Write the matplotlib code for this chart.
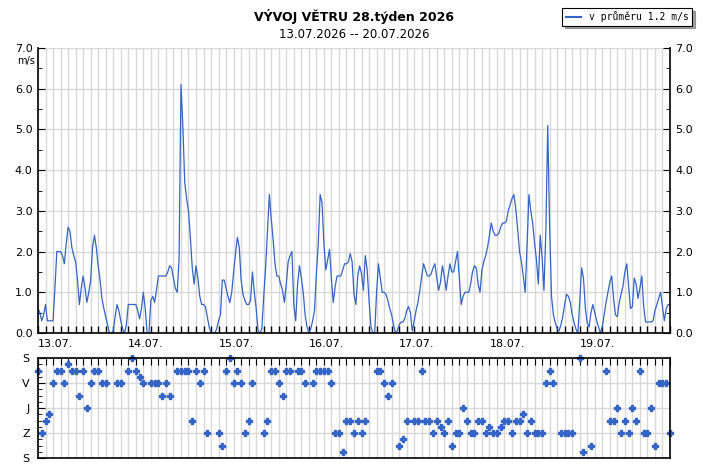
import numpy as np
import matplotlib
matplotlib.use("Agg")
import matplotlib.pyplot as plt
from matplotlib.lines import Line2D
from matplotlib.ticker import MultipleLocator, FixedLocator

# wind speed, half-hourly from 13.07. 00:00 (m/s)
speed = [
    0.6, 0.5, 0.3, 0.45, 0.7, 0.3, 0.3, 0.3, 0.3, 1.1, 2.0, 2.0, 2.0, 1.9, 1.7, 2.2,
    2.6, 2.5, 2.1, 1.9, 1.75, 1.3, 0.7, 1.1, 1.4, 1.1, 0.75, 1.0, 1.3, 2.1, 2.4, 2.1,
    1.65, 1.3, 0.85, 0.6, 0.4, 0.2, 0.0, 0.0, 0.05, 0.4, 0.7, 0.55, 0.3, 0.1, 0.0, 0.2,
    0.7, 0.7, 0.7, 0.7, 0.7, 0.55, 0.35, 0.6, 1.0, 0.6, 0.0, 0.0, 0.8, 0.9, 0.75, 1.05,
    1.4, 1.4, 1.4, 1.4, 1.4, 1.5, 1.65, 1.6, 1.35, 1.1, 1.0, 1.8, 6.1, 5.1, 3.7, 3.3,
    3.0, 2.35, 1.6, 1.2, 1.65, 1.35, 0.9, 0.7, 0.7, 0.65, 0.4, 0.15, 0.0, 0.0, 0.0, 0.1,
    0.3, 0.45, 1.3, 1.3, 1.1, 0.9, 0.75, 1.0, 1.5, 1.95, 2.35, 2.1, 1.3, 0.95, 0.8, 0.7,
    0.7, 0.8, 1.5, 1.0, 0.6, 0.05, 0.0, 0.1, 0.9, 1.6, 2.5, 3.4, 2.8, 2.3, 1.7, 1.4,
    1.4, 1.2, 1.05, 0.75, 1.2, 1.75, 1.9, 2.0, 0.7, 0.3, 1.2, 1.65, 1.35, 1.0, 0.45, 0.15,
    0.0, 0.1, 0.3, 0.55, 1.45, 2.2, 3.4, 3.2, 2.2, 1.55, 1.8, 2.05, 1.3, 0.75, 1.15, 1.4,
    1.4, 1.4, 1.55, 1.7, 1.7, 1.75, 1.95, 1.75, 0.95, 0.7, 1.4, 1.65, 1.45, 1.05, 1.9, 1.55,
    0.8, 0.15, 0.0, 0.0, 1.0, 1.7, 1.35, 1.0, 1.0, 0.95, 0.8, 0.6, 0.45, 0.2, 0.0, 0.05,
    0.2, 0.27, 0.27, 0.35, 0.55, 0.65, 0.5, 0.05, 0.3, 0.55, 0.75, 1.05, 1.4, 1.7, 1.55, 1.4,
    1.4, 1.45, 1.6, 1.7, 1.35, 1.05, 1.25, 1.65, 1.4, 1.05, 1.4, 1.7, 1.5, 1.5, 1.75, 2.0,
    1.35, 0.7, 0.9, 1.0, 1.0, 1.0, 1.2, 1.5, 1.65, 1.6, 1.2, 1.0, 1.55, 1.75, 1.9, 2.1,
    2.4, 2.7, 2.5, 2.4, 2.4, 2.45, 2.6, 2.7, 2.7, 2.75, 3.0, 3.15, 3.3, 3.4, 3.05, 2.55,
    2.0, 1.75, 1.4, 1.0, 2.15, 3.4, 3.0, 2.7, 2.2, 1.8, 1.2, 2.4, 1.85, 1.05, 2.5, 5.1,
    2.6, 0.9, 0.45, 0.25, 0.1, 0.05, 0.2, 0.4, 0.7, 0.95, 0.9, 0.75, 0.45, 0.25, 0.1, 0.0,
    0.75, 1.6, 1.35, 0.6, 0.25, 0.15, 0.5, 0.7, 0.5, 0.3, 0.15, 0.0, 0.15, 0.45, 0.75, 1.0,
    1.25, 1.4, 0.85, 0.45, 0.4, 0.75, 0.95, 1.15, 1.5, 1.7, 1.15, 0.6, 0.65, 1.35, 1.2, 0.85,
    1.1, 1.4, 0.65, 0.27, 0.27, 0.27, 0.27, 0.3, 0.55, 0.7, 0.85, 1.0, 0.65, 0.3, 0.6, 0.7,
    0.7,
]

# wind direction, hourly (degrees, None = calm / missing)
direction = [
    45, 270, 225, 202.5, 90, 45, 45, 90, 22.5, 45, 45, 135, 45, 180, 90, 45,
    45, 90, 90, None, None, 90, 90, None, 45, 0, 45, 67.5, 90, None, 90, 90,
    90, 135, 90, 135, None, 45, 45, 45, 45, 225, 45, 90, 45, 270, None, None,
    270, 315, 45, 0, 90, 45, 90, 270, 225, 90, None, None, 270, 225, 45, 45,
    90, 135, 45, 45, None, 45, 45, 90, None, 90, 45, 45, 45, 45, 90, 270,
    270, 337.5, 225, 225, 270, 225, 270, 225, None, None, 45, 45, 90, 135, 90, None,
    315, 292.5, 225, None, 225, 225, 45, 225, 225, 270, 225, 247.5, 270, 225, 315, 270,
    270, 180, 225, 270, 270, 225, 225, 270, 247.5, 270, 270, 247.5, 225, 225, 270, 225,
    225, 202.5, 270, 225, 270, 270, 270, 90, 45, 90, None, 270, 270, 270, 270, None,
    0, 337.5, None, 315, None, None, None, 45, 225, 225, 180, 270, 225, 270, 180, 225,
    45, 270, 270, 180, 315, 90, 90, 90, 270,
]

day_labels = ["13.07.", "14.07.", "15.07.", "16.07.", "17.07.", "18.07.", "19.07."]
dir_labels = ["S", "V", "J", "Z", "S"]
avg_speed = 1.2

blue = "#3465c6"
grid_c = "#d8d8d8"

t_speed = np.arange(len(speed)) * 0.5
t_dir = np.arange(len(direction)) * 1.0
dir_vals = np.array([np.nan if d is None else d for d in direction], dtype=float)

fig = plt.figure(figsize=(7.08, 4.68), dpi=100)
ax = fig.add_axes([38 / 708, 135 / 468, 632 / 708, 285 / 468])
ax2 = fig.add_axes([38 / 708, 10 / 468, 632 / 708, 100 / 468])

# --- speed panel ---
ax.plot(t_speed, speed, color=blue, lw=0.9)
ax.set_xlim(0, 168)
ax.set_ylim(0, 7)
ax.xaxis.set_major_locator(FixedLocator(np.arange(0, 168, 24)))
ax.xaxis.set_minor_locator(MultipleLocator(2))
ax.set_xticklabels(day_labels, ha="left", fontsize=8)
ax.yaxis.set_major_locator(MultipleLocator(1))
ax.yaxis.set_minor_locator(MultipleLocator(0.5))
ax.yaxis.set_major_formatter(plt.FuncFormatter(lambda v, p: "%.1f" % v))
ax.grid(True, which="both", axis="x", color=grid_c, lw=1)
ax.grid(True, which="major", axis="y", color=grid_c, lw=1)
ax.set_axisbelow(True)
ax.tick_params(axis="x", which="both", direction="in", length=5, width=1,
               labelsize=8, pad=4)
ax.tick_params(axis="y", which="major", direction="in", length=5, labelsize=8,
               left=True, right=True, labelleft=True, labelright=True, pad=4)
ax.tick_params(axis="y", which="minor", direction="in", length=3,
               left=True, right=True)
ax.spines["top"].set_visible(False)
for s in ["left", "right", "bottom"]:
    ax.spines[s].set_linewidth(1.2)
ax.text(-0.005, 0.972, "m/s", transform=ax.transAxes, ha="right", va="top", fontsize=7)

# --- direction panel ---
ax2.plot(t_dir, dir_vals, ls="none", marker="P", ms=4.3, color=blue, clip_on=False)
ax2.set_xlim(0, 168)
ax2.set_ylim(360, 0)
ax2.xaxis.set_major_locator(MultipleLocator(2))
ax2.set_yticks([0, 90, 180, 270, 360])
ax2.set_yticklabels(dir_labels, fontsize=8)
ax2.yaxis.set_minor_locator(MultipleLocator(22.5))
ax2.grid(True, which="major", color=grid_c, lw=1)
ax2.set_axisbelow(True)
ax2.tick_params(axis="x", which="both", direction="in", length=5, top=True,
                bottom=False, labelbottom=False)
ax2.tick_params(axis="y", which="major", direction="in", length=5, labelsize=8, pad=6)
ax2.tick_params(axis="y", which="minor", direction="in", length=3)
for s in ax2.spines.values():
    s.set_linewidth(1.2)

# --- titles ---
fig.text(354 / 708, 1 - 16 / 468, "VÝVOJ VĚTRU 28.týden 2026", ha="center", va="center",
         fontsize=9, fontweight="bold")
fig.text(354 / 708, 1 - 35 / 468, "13.07.2026 -- 20.07.2026", ha="center", va="center",
         fontsize=8.5)

handle = Line2D([], [], color=blue, lw=1.5)
leg = fig.legend([handle], ["v průměru %.1f m/s" % avg_speed], loc="upper right",
                 bbox_to_anchor=(697 / 708, 1 - 3 / 468), fancybox=False, shadow=True,
                 framealpha=1, edgecolor="black", borderpad=0.35, handlelength=1.6,
                 handletextpad=0.8, prop={"family": "DejaVu Sans Mono", "size": 7})
leg.get_frame().set_linewidth(0.8)

fig.savefig("out.png", dpi=100)
